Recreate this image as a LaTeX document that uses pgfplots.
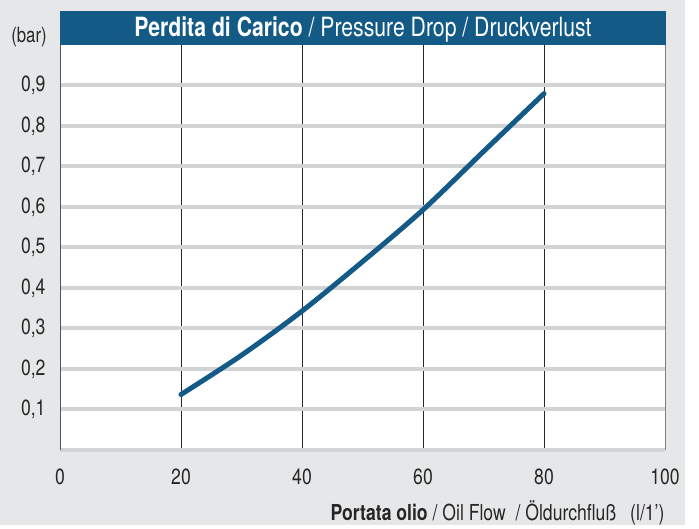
\documentclass[border=0pt]{standalone}
\usepackage{pgfplots}
\pgfplotsset{compat=1.18}
\usepackage{fontspec}
\setmainfont{TeX Gyre Heros}[FakeStretch=0.8]
\definecolor{bgc}{HTML}{E6E7E8}
\definecolor{gridg}{HTML}{D1D3D4}
\definecolor{blu}{HTML}{135A87}
\definecolor{axg}{HTML}{555555}
\begin{document}
\begin{tikzpicture}
\fill[bgc] (-60pt,-75pt) rectangle (625pt,450pt);
\fill[white] (625pt,-75pt) rectangle (639pt,450pt);
\begin{axis}[
  at={(0pt,0pt)}, anchor=south west,
  scale only axis, width=605pt, height=405pt,
  xmin=0, xmax=100, ymin=0, ymax=1,
  xtick={0,20,40,60,80,100},
  ytick={0.1,0.2,0.3,0.4,0.5,0.6,0.7,0.8,0.9},
  extra y ticks={0}, extra y tick labels={},
  extra y tick style={grid=major},
  major tick length=0pt,
  axis background/.style={fill=white},
  axis line style={draw=none},
  ymajorgrids, xmajorgrids,
  y grid style={gridg, line width=4pt},
  x grid style={black!85, line width=0.8pt},
  /pgf/number format/assume math mode=true,
  /pgf/number format/use comma,
  yticklabel style={/pgf/number format/fixed, /pgf/number format/precision=1,
    /pgf/number format/fixed zerofill, font=\fontsize{22}{26}\selectfont, text=black!85, xshift=-11pt},
  xticklabel style={font=\fontsize{22}{26}\selectfont, text=black!85, yshift=-15pt},
  clip=false,
]
\addplot[blu, line width=5pt, smooth, line cap=round] coordinates {
 (20,0.137) (30,0.234) (40,0.343) (50,0.465) (60,0.593) (70,0.737) (80,0.88)};
\draw[axg, line width=1pt] (rel axis cs:0,0) -- (rel axis cs:0,1);
\draw[gray, line width=1pt] (rel axis cs:1,0) -- (rel axis cs:1,1);
\end{axis}
\fill[blu] (0pt,405pt) rectangle (606pt,439pt);
\node[text=white, font=\fontsize{26.5}{30}\selectfont, anchor=base] at (303pt,413pt)
  {\textbf{Perdita di Carico} / Pressure Drop / Druckverlust};
\node[text=black!85, font=\fontsize{21}{24}\selectfont] at (-31pt,413pt) {(bar)};
\node[text=black!85, font=\fontsize{22}{26}\selectfont, anchor=base east] at (608pt,-71pt)
  {\textbf{Portata olio} / Oil Flow~ / Öldurchfluß\hspace{14pt}(l/1’)};
\end{tikzpicture}
\end{document}
